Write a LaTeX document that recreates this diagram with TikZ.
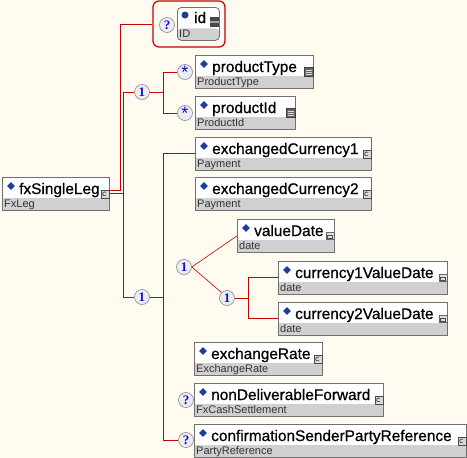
\documentclass[tikz,border=0pt]{standalone}
\usepackage{fontspec}
\setmainfont{Liberation Sans}
\newfontfamily\namefont[FakeBold=0.7]{Liberation Sans}
\newfontfamily\cardfont{Liberation Serif}
\usetikzlibrary{positioning,shapes.geometric,calc}
\definecolor{paper}{HTML}{FFFBF0}
\definecolor{linkred}{HTML}{C80000}
\definecolor{rim}{HTML}{707070}
\definecolor{typefill}{HTML}{D0D0D0}
\definecolor{bulletblue}{HTML}{1E3C9A}
\definecolor{cardblue}{HTML}{1010C8}
\definecolor{cardfill}{HTML}{ECECF4}

\begin{document}
\begin{tikzpicture}[x=1pt,y=-1pt,
 elem/.style={draw=rim,fill=white,line width=0.8pt,inner sep=0pt,minimum height=33pt,anchor=north west,
  path picture={\fill[typefill] ([yshift=12pt]path picture bounding box.south west) rectangle (path picture bounding box.south east);}},
 bullet/.style={diamond,aspect=1,fill=bulletblue,inner sep=0pt,minimum size=8pt},
 elemname/.style={anchor=base west,inner sep=0pt,font=\namefont\fontsize{15.4}{15.4}\selectfont},
 elemtype/.style={anchor=base west,inner sep=0pt,text=black!80,font=\fontsize{11}{11}\selectfont},
 icon-c/.style={draw=black!70,fill=black!15,line width=0.5pt,minimum size=8pt,inner sep=0pt,
  path picture={\draw[black!80,line width=0.6pt] ([shift={(1.3pt,1.6pt)}]path picture bounding box.center) arc[start angle=50,end angle=310,radius=2.1pt];}},
 icon-d/.style={draw=black!60,fill=black!12,line width=0.5pt,minimum width=8pt,minimum height=7pt,inner sep=0pt,
  path picture={\draw[black!70,line width=0.5pt] ([shift={(1.5pt,1.5pt)}]path picture bounding box.south west) rectangle ([shift={(-1.5pt,-2.5pt)}]path picture bounding box.north east);}},
 icon-l/.style={draw=black!75,fill=black!60,line width=0.5pt,minimum size=9pt,inner sep=0pt,
  path picture={\foreach \k in {2,4,6} \draw[black!15,line width=0.7pt] ([shift={(1.5pt,\k pt)}]path picture bounding box.south west) -- ([shift={(-1.5pt,\k pt)}]path picture bounding box.south east);}},
 icon-eq/.style={fill=black!72,minimum width=9pt,minimum height=10pt,inner sep=0pt,
  path picture={\fill[black!35] ([yshift=-1pt]path picture bounding box.west) rectangle ([yshift=1pt]path picture bounding box.east);}},
 card/.style={circle,draw=black!45,fill=cardfill,line width=0.6pt,minimum size=15pt,inner sep=0pt,text=cardblue,font=\cardfont\bfseries\fontsize{13}{13}\selectfont},
 star/.style={card,text=cardblue,font=\fontsize{18}{18}\selectfont},
 link/.style={draw=linkred,line width=1pt},
 thinlink/.style={draw=linkred,line width=0.6pt}]
\fill[paper] (0,0) rectangle (467,458);
\useasboundingbox (0,0) rectangle (467,458);
% element boxes: name / left / top / width / type / icon
\foreach \nm/\x/\y/\w/\typ/\ic in {fxSingleLeg/2/177/107/FxLeg/c,productType/195/55/118/ProductType/l,productId/195/96/100/ProductId/l,
 exchangedCurrency1/195/137/176/Payment/c,exchangedCurrency2/195/177/176/Payment/c,valueDate/237/219/97/date/d,
 currency1ValueDate/278/261/169/date/d,currency2ValueDate/278/302/169/date/d,exchangeRate/194/342/128/ExchangeRate/c,
 nonDeliverableForward/194/383/189/FxCashSettlement/c,confirmationSenderPartyReference/194/424/272/PartyReference/c} {
 \node[elem,minimum width=\w pt] (\nm) at (\x,\y) {};
 \node[bullet] (\nm-b) at ([xshift=9pt,yshift=-9pt]\nm.north west) {};
 \node[elemname] (\nm-n) at ([xshift=17pt,yshift=-17pt]\nm.north west) {\nm};
 \node[elemtype] (\nm-t) at ([xshift=2pt,yshift=-30pt]\nm.north west) {\typ};
 \node[icon-\ic] (\nm-i) at ([xshift=-5pt,yshift=-17pt]\nm.north east) {};
}
% the id attribute in its optional group
\node[draw=linkred,line width=1.2pt,rounded corners=6pt,fill=paper,minimum width=72pt,minimum height=46pt] (idgrp) at (189,24) {};
\node[elem,rounded corners=4pt,minimum width=42pt] (id) at (177,7) {};
\node[circle,fill=bulletblue,inner sep=0pt,minimum size=7pt] (id-b) at ([xshift=8pt,yshift=-8pt]id.north west) {};
\node[elemname] (id-n) at ([xshift=17pt,yshift=-16pt]id.north west) {id};
\node[elemtype] (id-t) at ([xshift=2pt,yshift=-30pt]id.north west) {ID};
\node[icon-eq] (id-i) at ([xshift=-5.5pt,yshift=-15pt]id.north east) {};
% compositors and cardinalities
\node[card] (idq) at (167,25) {?};
\node[card] (seqA) at (142,92) {1};
\node[star] (starT) at (185,72) {\raisebox{-5pt}{*}};
\node[star] (starI) at (185,113) {\raisebox{-5pt}{*}};
\node[card] (seqB) at (142,297) {1};
\node[card] (chC) at (184,267) {1};
\node[card] (seqD) at (227,298) {1};
\node[card] (optN) at (186,400) {?};
\node[card] (optC) at (186,440) {?};
% connectors
\coordinate (spineid) at ([xshift=11pt,yshift=3pt]fxSingleLeg.east);
\coordinate (spine) at ([xshift=13.5pt]fxSingleLeg.east);
\draw[link] ([yshift=3pt]fxSingleLeg.east) -- (spineid) |- (idgrp.west);
\draw[link] (fxSingleLeg.east) -- (spine);
\draw[link] (seqA.west) -| (spine) |- (seqB.west);
\draw[link] (seqA.east) -- ++(14,0) coordinate (forkA);
\draw[link] (starT.west) -| (forkA) |- (starI.west);
\draw[link] (seqB.east) -- ++(14,0) coordinate (forkB);
\draw[link] (exchangedCurrency1.west) -| (forkB) |- (optC.west);
\draw[thinlink] (chC.east) -- (valueDate.west);
\draw[thinlink] (chC.east) -- (seqD.north west);
\draw[link] (seqD.east) -- ++(14,0) coordinate (forkD);
\draw[link] (currency1ValueDate.west) -| (forkD) |- (currency2ValueDate.west);
\end{tikzpicture}
\end{document}
